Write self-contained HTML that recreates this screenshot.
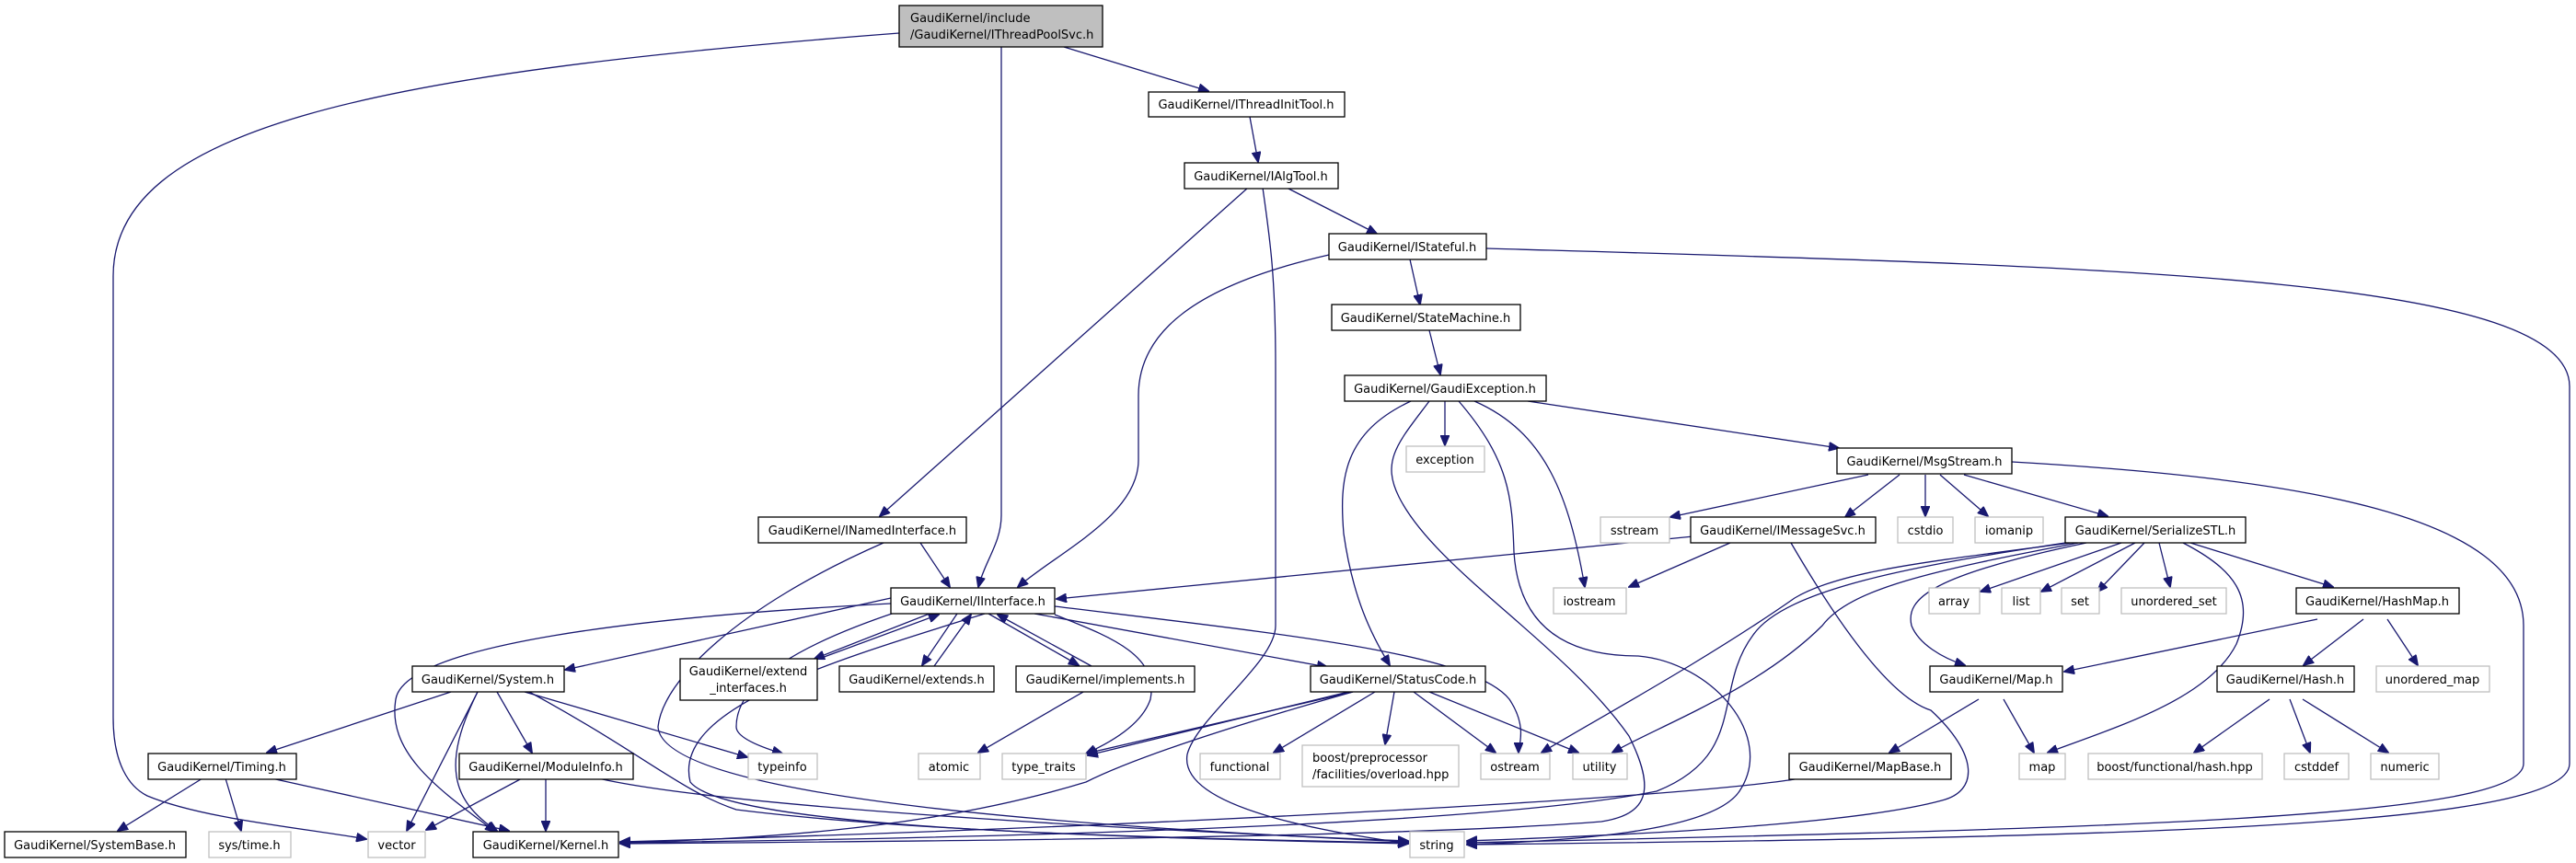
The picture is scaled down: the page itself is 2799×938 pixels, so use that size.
<!DOCTYPE html>
<html><head><meta charset="utf-8"><style>
html,body{margin:0;padding:0;background:#fff;}
svg{display:block;}
text{font-family:"DejaVu Sans","Liberation Sans",sans-serif;font-size:13px;fill:#000;}
.b{fill:#fff;stroke:#000;stroke-width:1.3;}
.g{fill:#fff;stroke:#bfbfbf;stroke-width:1.3;}
.e{fill:none;stroke:#191970;stroke-width:1.3;}
</style></head><body>
<svg width="2799" height="938" viewBox="0 0 2799 938" xmlns="http://www.w3.org/2000/svg">
<defs><marker id="a" markerWidth="12" markerHeight="10" refX="11" refY="5" orient="auto" markerUnits="userSpaceOnUse"><path d="M0,0 L12,5 L0,10 z" fill="#191970" stroke="#191970"/></marker></defs>
<g class="e" marker-end="url(#a)">
<path d="M1156,51 L1313,99"/>
<path d="M1088,51 L1088,560 C1088,590 1070,610 1063,638"/>
<path d="M977,36 C400,80 123,140 123,300 L123,780 C123,830 140,855 160,865 C220,890 330,900 398,912"/>
<path d="M1358,127 L1367,176"/>
<path d="M1356,204 L956,561"/>
<path d="M1372,204 C1380,260 1386,300 1386,400 L1386,680 C1386,720 1300,780 1290,820 C1280,880 1450,905 1530,917"/>
<path d="M1398,204 L1496,254"/>
<path d="M1444,277 C1300,310 1237,360 1237,430 L1237,500 C1237,560 1150,600 1106,638"/>
<path d="M1532,282 L1543,331"/>
<path d="M1615,270 C2300,290 2792,300 2792,420 L2792,830 C2792,900 2300,910 1594,918"/>
<path d="M1553,359 L1565,407"/>
<path d="M1570,436 L1570,484"/>
<path d="M1660,436 L1998,487"/>
<path d="M1602,436 C1680,470 1705,540 1722,638"/>
<path d="M1533,436 C1460,470 1455,520 1460,580 C1470,650 1490,690 1510,723"/>
<path d="M1553,436 C1520,480 1500,500 1520,540 C1560,620 1700,700 1770,800 C1800,860 1790,885 1740,893 C1500,912 900,915 674,917"/>
<path d="M1585,436 C1640,500 1643,540 1645,600 C1650,680 1700,713 1780,713 C1860,720 1930,800 1890,860 C1860,905 1700,914 1594,918"/>
<path d="M2030,516 L1815,562"/>
<path d="M2064,516 L2005,562"/>
<path d="M2092,516 L2092,561"/>
<path d="M2108,516 L2160,561"/>
<path d="M2134,516 L2290,561"/>
<path d="M2186,502 C2500,520 2742,560 2742,680 L2742,830 C2742,890 2300,900 1594,916"/>
<path d="M1840,583 L1148,651"/>
<path d="M1880,590 L1770,638"/>
<path d="M1946,590 C2010,700 2060,760 2098,772 C2150,820 2150,860 2110,870 C2000,900 1700,910 1594,914"/>
<path d="M2305,590 L2152,643"/>
<path d="M2320,590 L2218,643"/>
<path d="M2330,590 L2279,643"/>
<path d="M2346,590 L2358,638"/>
<path d="M2380,590 L2535,638"/>
<path d="M2267,590 C2100,625 2070,650 2077,680 C2085,700 2110,715 2135,723"/>
<path d="M2372,590 C2430,620 2450,650 2430,700 C2400,760 2300,790 2225,818"/>
<path d="M2250,590 C2100,610 2000,620 1950,650 C1850,720 1720,790 1675,818"/>
<path d="M2258,590 C2100,620 2010,640 1980,680 C1910,750 1800,790 1752,818"/>
<path d="M2244,590 C2080,615 1940,640 1905,690 C1860,750 1900,820 1800,860 C1600,900 1000,912 674,916"/>
<path d="M2518,673 L2243,730"/>
<path d="M2568,673 L2503,723"/>
<path d="M2594,673 L2627,723"/>
<path d="M2150,760 L2053,818"/>
<path d="M2177,760 L2210,818"/>
<path d="M2466,760 L2384,818"/>
<path d="M2488,760 L2510,818"/>
<path d="M2502,760 L2595,818"/>
<path d="M1950,847 C1800,870 1200,900 674,915"/>
<path d="M1000,590 L1032,638"/>
<path d="M960,590 C800,660 720,740 715,790 C720,870 1200,900 1530,915"/>
<path d="M968,650 L614,728"/>
<path d="M968,656 C700,670 440,700 430,760 C420,820 480,860 538,904"/>
<path d="M1010,667 L885,716"/>
<path d="M890,716 L1020,668"/>
<path d="M1040,667 L1002,723"/>
<path d="M1015,724 L1055,668"/>
<path d="M1074,667 L1172,723"/>
<path d="M1186,724 L1084,668"/>
<path d="M975,665 C870,700 800,740 800,790 C800,800 820,810 850,819"/>
<path d="M1146,668 C1200,690 1260,710 1250,760 C1240,790 1200,810 1180,819"/>
<path d="M1124,667 L1442,725"/>
<path d="M1146,659 C1400,690 1600,710 1640,760 C1660,790 1650,810 1650,818"/>
<path d="M1070,667 C900,720 730,770 750,850 C790,900 1200,910 1530,917"/>
<path d="M490,752 L290,818"/>
<path d="M519,752 L442,903"/>
<path d="M519,752 C480,830 490,870 540,903"/>
<path d="M540,752 L578,818"/>
<path d="M570,752 L812,823"/>
<path d="M575,752 C700,820 740,860 800,880 C1000,905 1300,912 1530,916"/>
<path d="M220,846 L128,903"/>
<path d="M245,846 L262,903"/>
<path d="M295,846 L553,903"/>
<path d="M567,846 L463,902"/>
<path d="M593,846 L593,903"/>
<path d="M650,846 C800,880 1300,905 1530,914"/>
<path d="M1177,752 L1063,818"/>
<path d="M1470,752 L1180,819"/>
<path d="M1465,752 L1182,821"/>
<path d="M1494,752 L1384,818"/>
<path d="M1515,752 L1505,809"/>
<path d="M1536,752 L1625,818"/>
<path d="M1553,752 L1715,818"/>
<path d="M1470,752 C1300,800 1220,830 1180,850 C1000,905 800,912 674,916"/>
</g>
<rect x="977" y="6" width="221" height="45" fill="#bfbfbf" stroke="#000" stroke-width="1.3"/>
<text x="989" y="24">GaudiKernel/include</text>
<text x="989" y="42">/GaudiKernel/IThreadPoolSvc.h</text>
<g>
<rect class="b" x="1248" y="100" width="213" height="27"/><text x="1354" y="118" text-anchor="middle">GaudiKernel/IThreadInitTool.h</text>
<rect class="b" x="1287" y="177" width="167" height="28"/><text x="1370" y="196" text-anchor="middle">GaudiKernel/IAlgTool.h</text>
<rect class="b" x="1444" y="254" width="171" height="28"/><text x="1529" y="273" text-anchor="middle">GaudiKernel/IStateful.h</text>
<rect class="b" x="1447" y="331" width="205" height="28"/><text x="1549" y="350" text-anchor="middle">GaudiKernel/StateMachine.h</text>
<rect class="b" x="1461" y="408" width="219" height="28"/><text x="1570" y="427" text-anchor="middle">GaudiKernel/GaudiException.h</text>
<rect class="g" x="1528" y="485" width="85" height="28"/><text x="1570" y="504" text-anchor="middle">exception</text>
<rect class="b" x="1996" y="487" width="190" height="28"/><text x="2091" y="506" text-anchor="middle">GaudiKernel/MsgStream.h</text>
<rect class="b" x="824" y="562" width="226" height="28"/><text x="937" y="581" text-anchor="middle">GaudiKernel/INamedInterface.h</text>
<rect class="g" x="1739" y="562" width="75" height="28"/><text x="1776" y="581" text-anchor="middle">sstream</text>
<rect class="b" x="1837" y="562" width="201" height="28"/><text x="1937" y="581" text-anchor="middle">GaudiKernel/IMessageSvc.h</text>
<rect class="g" x="2062" y="562" width="60" height="28"/><text x="2092" y="581" text-anchor="middle">cstdio</text>
<rect class="g" x="2146" y="562" width="74" height="28"/><text x="2183" y="581" text-anchor="middle">iomanip</text>
<rect class="b" x="2244" y="562" width="196" height="28"/><text x="2342" y="581" text-anchor="middle">GaudiKernel/SerializeSTL.h</text>
<rect class="b" x="968" y="639" width="178" height="28"/><text x="1057" y="658" text-anchor="middle">GaudiKernel/IInterface.h</text>
<rect class="g" x="1688" y="639" width="79" height="28"/><text x="1727" y="658" text-anchor="middle">iostream</text>
<rect class="g" x="2096" y="639" width="55" height="28"/><text x="2123" y="658" text-anchor="middle">array</text>
<rect class="g" x="2175" y="639" width="42" height="28"/><text x="2196" y="658" text-anchor="middle">list</text>
<rect class="g" x="2240" y="639" width="41" height="28"/><text x="2260" y="658" text-anchor="middle">set</text>
<rect class="g" x="2305" y="639" width="114" height="28"/><text x="2362" y="658" text-anchor="middle">unordered_set</text>
<rect class="b" x="2495" y="639" width="177" height="28"/><text x="2583" y="658" text-anchor="middle">GaudiKernel/HashMap.h</text>
<rect class="b" x="448" y="724" width="165" height="28"/><text x="530" y="743" text-anchor="middle">GaudiKernel/System.h</text>
<rect class="b" x="739" y="716" width="149" height="45"/><text x="813" y="734" text-anchor="middle">GaudiKernel/extend</text><text x="813" y="752" text-anchor="middle">_interfaces.h</text>
<rect class="b" x="912" y="724" width="168" height="28"/><text x="996" y="743" text-anchor="middle">GaudiKernel/extends.h</text>
<rect class="b" x="1104" y="724" width="194" height="28"/><text x="1201" y="743" text-anchor="middle">GaudiKernel/implements.h</text>
<rect class="b" x="1424" y="724" width="190" height="28"/><text x="1519" y="743" text-anchor="middle">GaudiKernel/StatusCode.h</text>
<rect class="b" x="2097" y="724" width="144" height="28"/><text x="2169" y="743" text-anchor="middle">GaudiKernel/Map.h</text>
<rect class="b" x="2409" y="724" width="149" height="28"/><text x="2483" y="743" text-anchor="middle">GaudiKernel/Hash.h</text>
<rect class="g" x="2582" y="724" width="123" height="28"/><text x="2643" y="743" text-anchor="middle">unordered_map</text>
<rect class="b" x="161" y="819" width="161" height="28"/><text x="241" y="838" text-anchor="middle">GaudiKernel/Timing.h</text>
<rect class="b" x="499" y="819" width="189" height="28"/><text x="593" y="838" text-anchor="middle">GaudiKernel/ModuleInfo.h</text>
<rect class="g" x="813" y="819" width="75" height="28"/><text x="850" y="838" text-anchor="middle">typeinfo</text>
<rect class="g" x="998" y="819" width="67" height="28"/><text x="1031" y="838" text-anchor="middle">atomic</text>
<rect class="g" x="1089" y="819" width="91" height="28"/><text x="1134" y="838" text-anchor="middle">type_traits</text>
<rect class="g" x="1304" y="819" width="87" height="28"/><text x="1347" y="838" text-anchor="middle">functional</text>
<rect class="g" x="1415" y="810" width="170" height="45"/><text x="1426" y="828">boost/preprocessor</text><text x="1426" y="846">/facilities/overload.hpp</text>
<rect class="g" x="1609" y="819" width="75" height="28"/><text x="1646" y="838" text-anchor="middle">ostream</text>
<rect class="g" x="1709" y="819" width="59" height="28"/><text x="1738" y="838" text-anchor="middle">utility</text>
<rect class="b" x="1944" y="819" width="176" height="28"/><text x="2032" y="838" text-anchor="middle">GaudiKernel/MapBase.h</text>
<rect class="g" x="2194" y="819" width="50" height="28"/><text x="2219" y="838" text-anchor="middle">map</text>
<rect class="g" x="2269" y="819" width="189" height="28"/><text x="2363" y="838" text-anchor="middle">boost/functional/hash.hpp</text>
<rect class="g" x="2482" y="819" width="70" height="28"/><text x="2517" y="838" text-anchor="middle">cstddef</text>
<rect class="g" x="2576" y="819" width="74" height="28"/><text x="2613" y="838" text-anchor="middle">numeric</text>
<rect class="b" x="5" y="904" width="197" height="28"/><text x="103" y="923" text-anchor="middle">GaudiKernel/SystemBase.h</text>
<rect class="g" x="227" y="904" width="89" height="28"/><text x="271" y="923" text-anchor="middle">sys/time.h</text>
<rect class="g" x="400" y="904" width="62" height="28"/><text x="431" y="923" text-anchor="middle">vector</text>
<rect class="b" x="514" y="904" width="158" height="28"/><text x="593" y="923" text-anchor="middle">GaudiKernel/Kernel.h</text>
<rect class="g" x="1532" y="904" width="59" height="28"/><text x="1561" y="923" text-anchor="middle">string</text>
</g>
</svg>
</body></html>
